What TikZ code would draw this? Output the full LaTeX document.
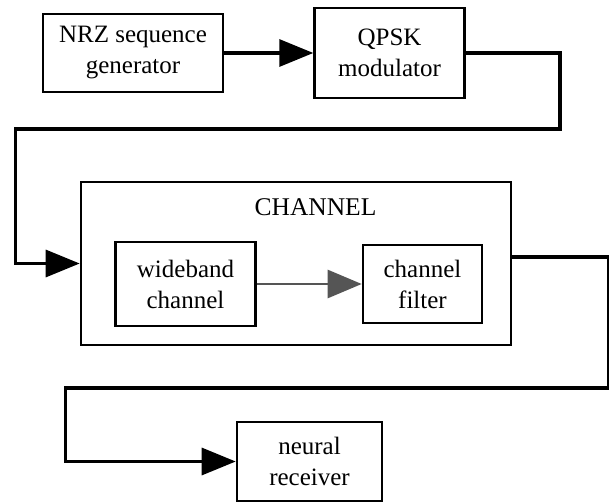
\documentclass[tikz,border=0pt]{standalone}
\usepackage{fontspec}
\setmainfont{Liberation Serif}
\usepackage{tikz}
\usetikzlibrary{arrows.meta,positioning}
\usepackage{xcolor}
\definecolor{linkgray}{HTML}{555555}

\begin{document}
\begin{tikzpicture}[
            x=1pt, y=-1pt,
            box/.style={rectangle, draw, line width=2.6pt, align=center, inner sep=0pt, fill=white, font=\fontsize{25}{31}\selectfont},
            arrow/.style={-{Triangle[length=34pt, width=27pt]}, line width=3.2pt},
            grayarrow/.style={-{Triangle[length=34pt, width=28pt]}, line width=2.6pt, draw=linkgray, fill=linkgray}
        ]
            \useasboundingbox (0,0) rectangle (609,502);

            % --- TRANSMISSOR ---
            \node[box, minimum width=180pt, minimum height=78pt] (nrz) at (133,53) {NRZ sequence\\generator};
            \node[box, minimum width=150pt, minimum height=90pt, right=89pt of nrz] (qpsk) {QPSK\\modulator};

            % --- CANAL ---
            \node[box, minimum width=430pt, minimum height=163pt] (channel) at (296,263.5) {};
            \node[anchor=base, inner sep=0pt, font=\fontsize{25.5}{31}\selectfont] (chlabel) at (315.5,216) {CHANNEL};
            \node[box, minimum width=140pt, minimum height=84pt] (wideband) at (185.5,284) {wideband\\channel};
            \node[box, minimum width=119pt, minimum height=78pt] (filter) at (422.5,284) {channel\\filter};

            % --- RECEPTOR ---
            \node[box, minimum width=145pt, minimum height=79pt] (neural) at (309.5,461.5) {neural\\receiver};

            % --- LIGAÇÕES ---
            \draw[arrow] (nrz) -- (qpsk);
            \draw[arrow] (qpsk.east) -- ++(94,0) -- ++(0,76) -| ([xshift=-64pt]channel.west) -- (channel.west);
            \draw[grayarrow] (wideband) -- (filter);
            \draw[arrow] ([yshift=6.5pt]channel.east) -- ++(96,0) -- ++(0,131) -| ([xshift=-170pt]neural.west) -- (neural.west);
        \end{tikzpicture}
\end{document}
